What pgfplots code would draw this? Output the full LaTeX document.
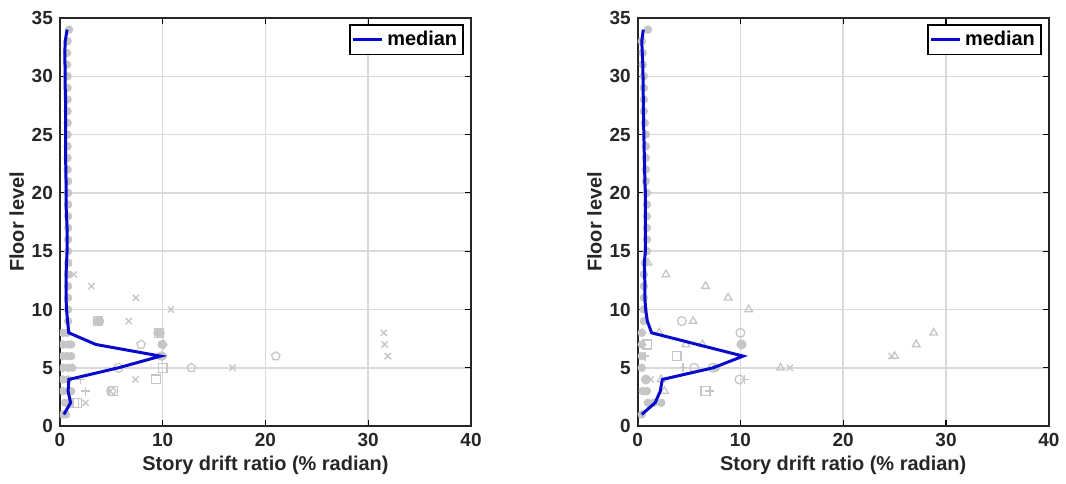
\documentclass[border=0pt]{standalone}
\usepackage{fontspec}
\setmainfont{Liberation Sans}
\usepackage{pgfplots}
\pgfplotsset{compat=1.18}
\usetikzlibrary{plotmarks}
\definecolor{medblue}{RGB}{10,10,205}
\definecolor{mgray}{RGB}{198,198,198}
\definecolor{gridgray}{RGB}{218,218,218}
\pgfplotsset{
  myax/.style={
    scale only axis, width=206pt, height=204.5pt,
    xmin=0, xmax=40, ymin=0, ymax=35,
    clip marker paths=true,
    xtick={0,10,20,30,40}, ytick={0,5,10,15,20,25,30,35},
    grid=major, major grid style={gridgray, line width=0.75pt},
    axis line style={line width=0.9pt, black!85},
    tick style={black, line width=0.6pt}, tick align=inside,
    major tick length=3pt,
    ticklabel style={font=\fontsize{9.5}{11}\selectfont\bfseries, text=black!85},
    /pgf/number format/assume math mode=true,
    xlabel={Story drift ratio (\% radian)}, ylabel={Floor level},
    label style={font=\fontsize{10}{12}\selectfont\bfseries, text=black!85},
    xlabel style={yshift=2pt}, ylabel style={yshift=-3pt},
    legend style={at={(0.983,0.985)}, anchor=north east, draw=black, line width=0.9pt,
      font=\fontsize{10}{12}\selectfont\bfseries, inner sep=1pt, row sep=0pt},
    legend cell align=left,
    legend image code/.code={\draw[medblue, line width=1.5pt] (0cm,0cm) -- (0.5cm,0cm);},
  },
  gm/.style={only marks, mgray, mark size=2.2pt, line width=0.65pt, forget plot},
  gf/.style={only marks, mgray, mark size=1.8pt, line width=0.6pt, forget plot, mark=*, mark options={fill=mgray}},
}
\begin{document}
\begin{tikzpicture}
% ---------------- Left panel ----------------
\begin{axis}[myax]
\addplot[gf] coordinates {
(0.3,1)(0.6,1)(0.5,2)(1.0,2)(0.3,3)(0.8,3)(1.1,3)(0.3,4)(0.8,4)(0.3,5)(0.8,5)(1.2,5)
(0.3,6)(0.7,6)(1.1,6)(0.3,7)(0.8,7)(1.1,7)(0.3,8)(0.7,8)
(0.8,9)(0.8,10)(0.8,11)(0.8,12)(0.8,13)(0.8,14)
(0.8,15)(0.8,16)(0.8,17)(0.8,18)(0.8,19)(0.8,20)
(0.8,21)(0.75,22)(0.75,23)(0.75,24)(0.75,25)(0.75,26)
(0.75,27)(0.75,28)(0.75,29)(0.75,30)(0.7,31)(0.7,32)
(0.75,33)(0.9,34)
(3.6,9)(3.9,9)(9.5,8)(9.8,8)(9.7,6)(10.0,6)(9.9,7)
};
\addplot[gm, mark=o] coordinates {(5.7,5)(5.0,3)(3.8,9)};
\addplot[gm, mark=square] coordinates {(3.7,9)(9.6,8)(10.0,5)(9.35,4)(5.2,3)(1.7,2)(1.4,2)};
\addplot[gm, mark=pentagon] coordinates {(7.9,7)(21.0,6)(12.8,5)};
\addplot[gm, mark=diamond] coordinates {(10.1,7)(9.9,6)};
\addplot[gm, mark=x] coordinates {(0.87,14)(1.36,13)(3.07,12)(7.4,11)(10.8,10)(6.7,9)(31.5,8)(31.6,7)(31.9,6)(16.8,5)(7.35,4)(4.9,3)(2.5,2)};
\addplot[gm, mark=+] coordinates {(1.26,5)(2.0,4)(2.5,3)};
\addplot[medblue, line width=1.5pt] coordinates {
(0.39,1)(1.04,2)(0.8,3)(0.87,4)(5.7,5)(9.8,6)(3.5,7)(0.87,8)(0.75,9)(0.65,10)
(0.6,11)(0.6,12)(0.6,13)(0.65,14)(0.7,15)(0.7,16)(0.7,17)(0.65,18)(0.6,19)(0.6,20)
(0.6,21)(0.58,22)(0.56,23)(0.55,24)(0.55,25)(0.55,26)(0.55,27)(0.55,28)(0.52,29)(0.5,30)
(0.5,31)(0.48,32)(0.52,33)(0.7,34)};
\addlegendentry{median}
\end{axis}
% ---------------- Right panel ----------------
\begin{axis}[myax, at={(289.5pt,0pt)}]
\addplot[gf] coordinates {
(0.4,1)(1.0,2)(1.6,2)(2.3,2)(0.5,3)(0.9,3)(0.8,4)(0.4,5)(0.4,6)(0.4,7)(0.4,8)
(0.6,9)(0.6,10)(0.6,11)(0.6,12)(0.6,13)(0.7,14)
(0.9,15)(0.9,16)(0.9,17)(0.9,18)(0.9,19)(0.9,20)
(0.8,21)(0.8,22)(0.8,23)(0.8,24)(0.8,25)(0.7,26)
(0.6,27)(0.6,28)(0.6,29)(0.6,30)(0.5,31)(0.5,32)
(0.4,33)(1.0,34)
(7.6,5)(10.1,7)
};
\addplot[gm, mark=o] coordinates {(4.3,9)(10.0,8)(10.1,7)(5.5,5)(7.3,5)(9.9,4)(0.8,4)};
\addplot[gm, mark=triangle] coordinates {(1.0,14)(2.75,13)(6.6,12)(8.8,11)(10.8,10)(5.4,9)(2.1,8)(28.8,8)(27.1,7)(4.7,7)(6.3,7)(25.0,6)(13.9,5)(2.3,4)(2.6,3)};
\addplot[gm, mark=square] coordinates {(0.94,7)(3.8,6)(6.6,3)};
\addplot[gm, mark=+] coordinates {(0.5,7)(0.7,6)(4.4,5)(10.4,4)(7.0,3)(0.5,8)};
\addplot[gm, mark=x] coordinates {(24.7,6)(14.8,5)(1.26,4)};
\addplot[medblue, line width=1.5pt] coordinates {
(0.39,1)(1.7,2)(2.2,3)(2.4,4)(7.35,5)(10.26,6)(5.8,7)(1.36,8)(0.94,9)(0.78,10)
(0.7,11)(0.7,12)(0.68,13)(0.65,14)(0.75,15)(0.75,16)(0.75,17)(0.75,18)(0.75,19)(0.75,20)
(0.7,21)(0.68,22)(0.65,23)(0.63,24)(0.6,25)(0.58,26)(0.56,27)(0.55,28)(0.53,29)(0.52,30)
(0.5,31)(0.45,32)(0.4,33)(0.55,34)};
\addlegendentry{median}
\end{axis}
\path[use as bounding box] (-30pt,-29pt) rectangle (503pt,213.5pt);
\end{tikzpicture}
\end{document}
